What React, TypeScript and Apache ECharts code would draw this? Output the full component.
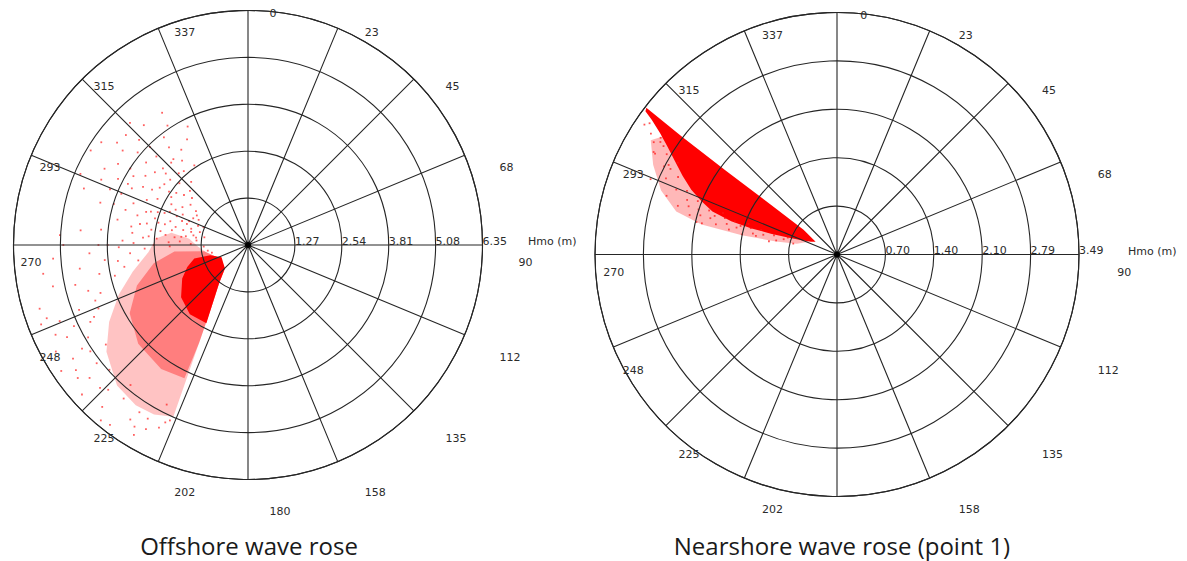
import React, { useEffect, useRef } from "react";
import * as echarts from "echarts";

// ---- tick labels ----
const angleTicks = [0, 22.5, 45, 67.5, 90, 112.5, 135, 157.5, 180, 202.5, 225, 247.5, 270, 292.5, 315, 337.5];
const angleLabelsLeft = ["0", "23", "45", "68", "90", "112", "135", "158", "180", "202", "225", "248", "270", "293", "315", "337"];
const angleLabelsRight = ["0", "23", "45", "68", "90", "112", "135", "158", "", "202", "225", "248", "270", "293", "315", "337"];
const ringValuesLeft = [1.27, 2.54, 3.81, 5.08, 6.35];
const ringLabelsLeft = ["1.27", "2.54", "3.81", "5.08", "6.35"];
const ringValuesRight = [0.698, 1.396, 2.094, 2.792, 3.49];
const ringLabelsRight = ["0.70", "1.40", "2.10", "2.79", "3.49"];
const captions = ["Offshore wave rose", "Nearshore wave rose (point 1)"];
const radialTitle = "Hmo (m)";

// ---- offshore cloud, [Hmo (m), direction (deg)] ----
const offshoreOuterBand = [
  [0.84, 244], [1.15, 260], [1.35, 268], [1.6, 276], [2.1, 279], [2.5, 274], [2.7, 266], [3.2, 257], [3.75, 249],
  [4.3, 241], [4.8, 233], [5.2, 223], [5.3, 215], [5.25, 209], [5.07, 203.5], [2.95, 206.6], [1.9, 210.8], [1.3, 217], [0.89, 224.6],
];
const offshoreInnerBand = [
  [0.84, 244], [1.2, 262], [2.0, 265], [2.6, 259], [3.2, 250], [3.7, 240], [4.0, 228], [4.1, 215],
  [4.0, 205.5], [2.95, 206.6], [1.9, 210.8], [1.3, 217], [0.89, 224.6],
];
const offshoreCore = [
  [0.79, 245], [1.06, 255], [1.5, 256], [1.75, 250], [2.0, 243], [2.3, 232], [2.45, 220], [2.4, 208],
  [1.9, 210.8], [1.3, 217], [0.89, 224.6],
];
const offshoreScatter = [
  [4.3, 319], [4.27, 327], [3.15, 325], [3.08, 319], [3.45, 314], [3.62, 301], [4.03, 292], [4.16, 286], [4.97, 301],
  [4.93, 293], [3.9, 310], [4.5, 308], [3.3, 330], [2.9, 322], [2.7, 316], [3.7, 322], [4.1, 314], [2.5, 312],
  [2.8, 306], [3.2, 308], [3.5, 296], [3.0, 300], [4.4, 298], [4.7, 289], [3.8, 303], [2.6, 326], [3.6, 333],
  [4.6, 316], [2.3, 318], [2.95, 311], [3.35, 304], [3.95, 297], [4.25, 307], [2.75, 310], [3.05, 317],
  [3.55, 309], [3.25, 299], [2.85, 303], [3.75, 315], [4.45, 312], [3.4, 321], [2.4, 306], [2.15, 313],
  [3.9, 326], [4.15, 302], [4.85, 305], [3.1, 312], [2.65, 319], [3.65, 297], [4.35, 294],
  [1.4, 275], [1.5, 280], [1.6, 286], [1.7, 278], [1.8, 283], [1.9, 290], [2.0, 276], [2.1, 281], [2.2, 287],
  [2.3, 293], [2.4, 279], [2.5, 284], [2.6, 290], [2.7, 275], [2.8, 282], [2.9, 288], [3.0, 294], [1.55, 271],
  [1.75, 289], [1.95, 295], [2.15, 272], [2.35, 298], [2.55, 270], [2.75, 297], [1.35, 285], [1.45, 291],
  [1.65, 296], [1.85, 273], [2.05, 300], [2.25, 277], [2.45, 302], [2.65, 279], [2.85, 274], [3.1, 285],
  [3.2, 279], [3.3, 290], [3.4, 272], [3.6, 281], [3.8, 287], [4.0, 276], [1.6, 300], [1.9, 305], [2.2, 308],
  [1.5, 297], [1.3, 292], [1.2, 280], [1.58, 283], [1.82, 277], [2.08, 292], [2.32, 284], [2.12, 269],
  [1.72, 292], [2.48, 274], [2.62, 286], [2.02, 284], [1.42, 278], [2.18, 296], [2.42, 291], [2.78, 289],
  [2.98, 281], [3.15, 276], [3.45, 286], [3.7, 292], [1.68, 303], [2.58, 304], [1.98, 310],
  [2.8, 268], [3.0, 262], [3.2, 266], [3.4, 260], [3.5, 269], [3.7, 257], [3.9, 264], [4.1, 259], [4.3, 267],
  [4.5, 254], [4.6, 262], [4.8, 257], [5.0, 270], [5.1, 273], [5.29, 266], [5.4, 258], [3.1, 271], [3.8, 270],
  [4.4, 247], [4.9, 249], [5.2, 245], [3.55, 263], [4.2, 252], [4.75, 244], [4.05, 270], [4.55, 275], [5.6, 262],
  [5.9, 253], [5.8, 250], [5.5, 243], [5.76, 234], [5.57, 226], [6.14, 217.5], [6.0, 211], [5.43, 210],
  [4.85, 207], [5.3, 238], [5.0, 240], [4.6, 245], [5.6, 230], [5.9, 222], [6.2, 220], [5.7, 214], [5.35, 219],
  [5.05, 228], [4.7, 235], [5.5, 248], [6.05, 228], [5.95, 241], [5.2, 232], [4.4, 250], [5.65, 237],
  [5.5, 206], [5.7, 209], [5.3, 205], [5.8, 212], [5.2, 204], [1.1, 262], [1.2, 268], [1.0, 258],
  [5.45, 224], [5.85, 232], [6.1, 236], [5.15, 236], [5.75, 245], [6.0, 249], [4.95, 220], [5.4, 213],
];

// ---- nearshore cloud, [Hmo (m), direction (deg)] ----
const nearshoreFringe = [
  [0.45, 294], [0.6, 285], [0.9, 282], [1.4, 281.5], [2.0, 282.5], [2.4, 285], [2.7, 290], [2.95, 296],
  [3.15, 301.5], [3.0, 305], [2.5, 299], [1.5, 290], [0.5, 296],
];
const nearshoreCore = [
  [0.36, 301], [0.6, 306.5], [1.2, 307], [2.0, 307], [2.8, 307.2], [3.47, 307.6], [3.45, 306.8], [3.3, 306],
  [3.1, 304.5], [2.9, 302.5], [2.7, 300], [2.5, 297], [2.3, 294], [2.1, 291.5], [1.9, 289], [1.6, 287.5],
  [1.3, 287], [1.0, 287.5], [0.75, 289], [0.55, 292], [0.42, 296],
];
const nearshoreScatter = [
  [0.65, 284], [0.8, 286], [0.9, 283], [1.0, 281], [1.1, 285], [1.2, 283], [1.3, 287], [1.4, 282], [1.5, 285],
  [1.6, 283], [1.7, 288], [1.8, 284], [1.9, 286], [2.0, 283], [2.08, 283], [2.1, 288], [2.2, 285], [2.3, 290],
  [2.4, 287], [2.5, 292], [2.6, 289], [2.7, 294], [2.8, 297], [2.9, 292], [3.0, 299], [3.1, 301.5], [3.2, 303],
  [2.95, 302], [2.75, 298], [2.55, 296], [2.35, 293], [2.15, 291], [1.95, 289], [1.75, 290], [1.55, 288],
  [1.35, 289], [1.15, 288], [0.95, 287], [0.75, 289], [3.3, 305], [3.35, 304], [2.65, 300], [2.85, 300.5],
  [3.05, 303.5], [1.25, 284], [1.45, 286.5], [1.65, 285.5], [1.85, 287.5], [2.05, 286], [2.25, 288],
  [3.02, 302.5], [3.03, 299.2], [2.7, 297.2],
];

const LINE = "#262626";
const TEXT = "#2b2b2b";
const PLOT_FONT = "DejaVu Sans";

const plots = [
  { cx: 248, cy: 245, r: 234.5, max: 6.35, interval: 1.27, rings: ringValuesLeft, ringLabels: ringLabelsLeft, angleLabels: angleLabelsLeft, lx: 21.5, ly: 17.5, hmoDx: 45.5, capX: 249 },
  { cx: 837, cy: 254.5, r: 242, max: 3.49, interval: 0.698, rings: ringValuesRight, ringLabels: ringLabelsRight, angleLabels: angleLabelsRight, lx: 23.3, ly: 18, hmoDx: 49, capX: 842 },
];

function polygonSeries(polarIndex: number, verts: number[][], color: string, z: number) {
  return {
    type: "custom",
    coordinateSystem: "polar",
    polarIndex,
    silent: true,
    z,
    data: verts,
    renderItem: (params: any, api: any) => {
      if (params.dataIndex !== 0) return null;
      const pts = verts.map((v) => api.coord([v[0], v[1]]));
      return { type: "polygon", shape: { points: pts }, style: { fill: color } };
    },
  };
}

function scatterSeries(polarIndex: number, data: number[][], color: string) {
  return {
    type: "scatter",
    coordinateSystem: "polar",
    polarIndex,
    silent: true,
    z: 4,
    symbol: "rect",
    symbolSize: 1.8,
    itemStyle: { color },
    data,
  };
}

function buildGraphics() {
  const g: any[] = [];
  plots.forEach((p, pi) => {
    const R = 1.062 * p.r;
    angleTicks.forEach((a, i) => {
      const t = p.angleLabels[i];
      if (!t) return;
      const rad = (a * Math.PI) / 180;
      g.push({
        type: "text",
        x: p.cx + p.lx + R * Math.sin(rad),
        y: p.cy + p.ly - R * Math.cos(rad),
        style: { text: t, fill: TEXT, font: `11px "${PLOT_FONT}"`, textAlign: "left", textVerticalAlign: "middle" },
        z: 20,
      });
    });
    p.rings.forEach((v, i) => {
      g.push({
        type: "text",
        x: p.cx + (p.r * v) / p.max,
        y: p.cy - 4,
        style: { text: p.ringLabels[i], fill: TEXT, font: `11px "${PLOT_FONT}"`, textAlign: "left", textVerticalAlign: "middle" },
        z: 20,
      });
    });
    g.push({
      type: "text",
      x: p.cx + p.r + p.hmoDx,
      y: p.cy - 3.5,
      style: { text: radialTitle, fill: TEXT, font: `11px "${PLOT_FONT}"`, textAlign: "left", textVerticalAlign: "middle" },
      z: 20,
    });
    g.push({ type: "circle", shape: { cx: p.cx, cy: p.cy, r: 3 }, style: { fill: "#000" }, z: 21 });
    g.push({
      type: "text",
      x: p.capX,
      y: 545,
      style: { text: captions[pi], fill: "#1a1a1a", font: `24px "Open Sans"`, textAlign: "center", textVerticalAlign: "middle" },
      z: 20,
    });
  });
  return g;
}

export default function App() {
  const ref = useRef<HTMLDivElement>(null);
  useEffect(() => {
    const chart = echarts.init(ref.current as HTMLDivElement, null, { renderer: "svg" });
    const option: any = {
      animation: false,
      backgroundColor: "#fff",
      polar: plots.map((p) => ({ center: [p.cx, p.cy], radius: p.r })),
      angleAxis: plots.map((p, i) => ({
        polarIndex: i,
        type: "value",
        min: 0,
        max: 360,
        interval: 22.5,
        startAngle: 90,
        clockwise: true,
        z: 10,
        axisLine: { show: true, lineStyle: { color: LINE, width: 1.1 } },
        axisTick: { show: false },
        axisLabel: { show: false },
        splitLine: { show: true, lineStyle: { color: LINE, width: 1.1 } },
      })),
      radiusAxis: plots.map((p, i) => ({
        polarIndex: i,
        type: "value",
        min: 0,
        max: p.max,
        interval: p.interval,
        z: 10,
        axisLine: { show: false },
        axisTick: { show: false },
        axisLabel: { show: false },
        splitLine: { show: true, lineStyle: { color: LINE, width: 1.1 } },
      })),
      series: [
        polygonSeries(0, offshoreOuterBand, "rgba(255,40,40,0.28)", 1),
        polygonSeries(0, offshoreInnerBand, "rgba(255,30,30,0.42)", 2),
        polygonSeries(0, offshoreCore, "#ff0000", 3),
        scatterSeries(0, offshoreScatter, "rgba(255,20,20,0.85)"),
        polygonSeries(1, nearshoreFringe, "rgba(255,20,20,0.3)", 1),
        polygonSeries(1, nearshoreCore, "#ff0000", 3),
        scatterSeries(1, nearshoreScatter, "rgba(255,20,20,0.9)"),
      ],
      graphic: buildGraphics(),
    };
    chart.setOption(option);
    return () => chart.dispose();
  }, []);
  return (
    <div
      ref={ref}
      style={{ position: "fixed", left: 0, top: 0, width: 1187, height: 561, background: "#fff" }}
    />
  );
}
